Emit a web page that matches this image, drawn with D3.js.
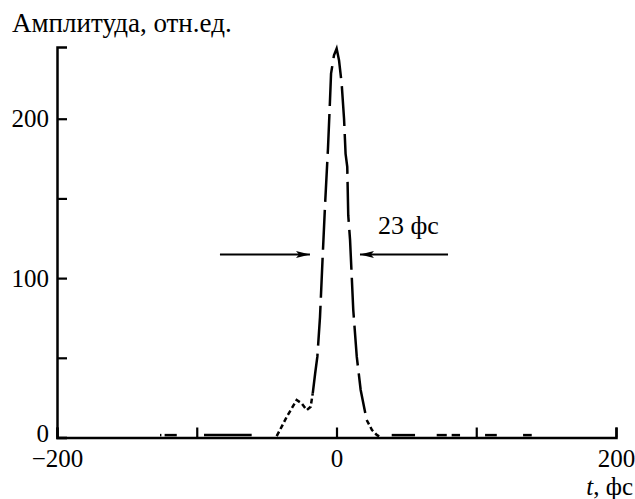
<!DOCTYPE html>
<html>
<head>
<meta charset="utf-8">
<script src="https://cdn.jsdelivr.net/npm/d3@7"></script>
<style>
  body { margin: 0; background: #fff; }
  text { font-family: "Liberation Serif", "Times New Roman", serif; fill: #000; }
</style>
</head>
<body>
<div id="chart"></div>
<script>
// Pulse samples (t in fs, amplitude in arb. units)
var pulseTime = [-42.8, -39.2, -35.6, -32, -28.5, -24.9, -21.3, -18.5, -17, -15.3, -13.7, -11.8, -9.9, -8.2, -6.1, -4.7, -3.9, -1.8, 0.1, 1.8, 3.7, 5.4, 6.5, 7.7, 8.4, 9.7, 12.0, 14.5, 17.3, 21.6, 25.4, 28.8, 31];
var pulseAmp = [0.9, 6.8, 13, 18.3, 23.5, 21.4, 17.2, 19.3, 27.7, 40, 50.7, 75.7, 113.4, 145.8, 181.3, 210.5, 228.3, 239.8, 244, 236.7, 222, 200, 178, 169.8, 139.5, 124, 80, 50.7, 29.8, 11, 4.7, 1.6, 0.5];

// Flat pieces of the trace far from the pulse
var tailStart = [-126.3, -123, -94.8, 39.5, 71.7, 82.4, 106.3, 133.5];
var tailEnd = [-125.3, -114.3, -60.7, 56.2, 78.9, 88.4, 114.7, 139.7];
var tailAmp = 1.5;

// Axis ticks
var xTicks = [-200, -100, 0, 100, 200];
var xLabels = [-200, 0, 200];
var yTicks = [0, 50, 100, 150, 200];
var yLabels = [0, 100, 200];

// FWHM marker
var fwhmLeft = [-83.4, -19];
var fwhmRight = [79.8, 16.8];
var fwhmLevel = 114.8;
var fwhmText = "23 фс";
var fwhmTextPos = [29.7, 127.5];

// Define SVG area dimensions
var svgWidth = 635;
var svgHeight = 499;

var chartMargin = {
  top: 47,
  right: 19,
  bottom: 61.5,
  left: 57
};

var chartWidth = svgWidth - chartMargin.left - chartMargin.right;
var chartHeight = svgHeight - chartMargin.top - chartMargin.bottom;

var svg = d3.select("#chart")
  .append("svg")
  .attr("width", svgWidth)
  .attr("height", svgHeight);

// marker for the arrow heads
svg.append("defs")
  .append("marker")
  .attr("id", "head")
  .attr("viewBox", "0 0 14 7")
  .attr("refX", 14)
  .attr("refY", 3.5)
  .attr("markerWidth", 14)
  .attr("markerHeight", 7)
  .attr("markerUnits", "userSpaceOnUse")
  .attr("orient", "auto")
  .append("path")
  .attr("d", "M0,0 L14,3.5 L0,7 L3,3.5 Z")
  .attr("fill", "#000");

var chartGroup = svg.append("g")
  .attr("transform", `translate(${chartMargin.left}, ${chartMargin.top})`);

var xScale = d3.scaleLinear()
  .domain([-200, 200])
  .range([0, chartWidth]);

var yScale = d3.scaleLinear()
  .domain([0, 245])
  .range([chartHeight, 0]);

// axes with inward ticks
var bottomAxis = d3.axisBottom(xScale)
  .tickValues(xTicks)
  .tickSizeInner(-10)
  .tickSizeOuter(-10)
  .tickPadding(12)
  .tickFormat(d => xLabels.indexOf(d) >= 0 ? d3.format("")(d) : "");

var leftAxis = d3.axisLeft(yScale)
  .tickValues(yTicks)
  .tickSizeInner(-10)
  .tickSizeOuter(-10)
  .tickPadding(8)
  .tickFormat(d => yLabels.indexOf(d) >= 0 ? d : "");

var xAxisG = chartGroup.append("g")
  .attr("transform", `translate(0, ${chartHeight})`)
  .call(bottomAxis);

var yAxisG = chartGroup.append("g")
  .call(leftAxis);

[xAxisG, yAxisG].forEach(function(g) {
  g.attr("font-family", null).attr("font-size", null);
  g.select(".domain").attr("stroke", "#000").attr("stroke-width", 2.5);
  g.selectAll(".tick line").attr("stroke", "#000").attr("stroke-width", 2.2);
  g.selectAll(".tick text")
    .attr("font-family", "Liberation Serif")
    .style("font-family", "'Liberation Serif', serif")
    .style("font-size", "25px")
    .attr("fill", "#000");
});

// the zero on the value axis sits a little higher
yAxisG.selectAll(".tick text")
  .filter(d => d === 0)
  .attr("y", -4);

// Axis titles
svg.append("text")
  .attr("x", 12)
  .attr("y", 32)
  .style("font-size", "27px")
  .text("Амплитуда, отн.ед.");

var xTitle = svg.append("text")
  .attr("x", 633)
  .attr("y", 495)
  .style("text-anchor", "end")
  .style("font-size", "25px");
xTitle.append("tspan").style("font-style", "italic").text("t");
xTitle.append("tspan").text(", фс");

// Build the pulse points
var pulse = pulseTime.map((t, i) => ({ t: t, a: pulseAmp[i] }));

var drawLine = d3.line()
  .x(d => xScale(d.t))
  .y(d => yScale(d.a));

var leftFoot = pulse.filter(d => d.t <= -17);
var mainPart = pulse.filter(d => d.t >= -17 && d.t <= 21.6);
var rightFoot = pulse.filter(d => d.t >= 21.6);

chartGroup.append("path")
  .attr("d", drawLine(mainPart))
  .attr("fill", "none")
  .attr("stroke", "#000")
  .attr("stroke-width", 2.5)
  .attr("stroke-dasharray", "40,8");

[leftFoot, rightFoot].forEach(function(part) {
  chartGroup.append("path")
    .attr("d", drawLine(part))
    .attr("fill", "none")
    .attr("stroke", "#000")
    .attr("stroke-width", 2.5)
    .attr("stroke-dasharray", "5,3");
});

// flat tails
tailStart.forEach(function(t0, i) {
  chartGroup.append("path")
    .attr("d", drawLine([{ t: t0, a: tailAmp }, { t: tailEnd[i], a: tailAmp }]))
    .attr("fill", "none")
    .attr("stroke", "#000")
    .attr("stroke-width", 2.5);
});

// FWHM arrows and label
[fwhmLeft, fwhmRight].forEach(function(ends) {
  chartGroup.append("line")
    .attr("x1", xScale(ends[0]))
    .attr("x2", xScale(ends[1]))
    .attr("y1", yScale(fwhmLevel))
    .attr("y2", yScale(fwhmLevel))
    .attr("stroke", "#000")
    .attr("stroke-width", 2)
    .attr("marker-end", "url(#head)");
});

chartGroup.append("text")
  .attr("x", xScale(fwhmTextPos[0]))
  .attr("y", yScale(fwhmTextPos[1]))
  .style("font-size", "26px")
  .text(fwhmText);
</script>
</body>
</html>
